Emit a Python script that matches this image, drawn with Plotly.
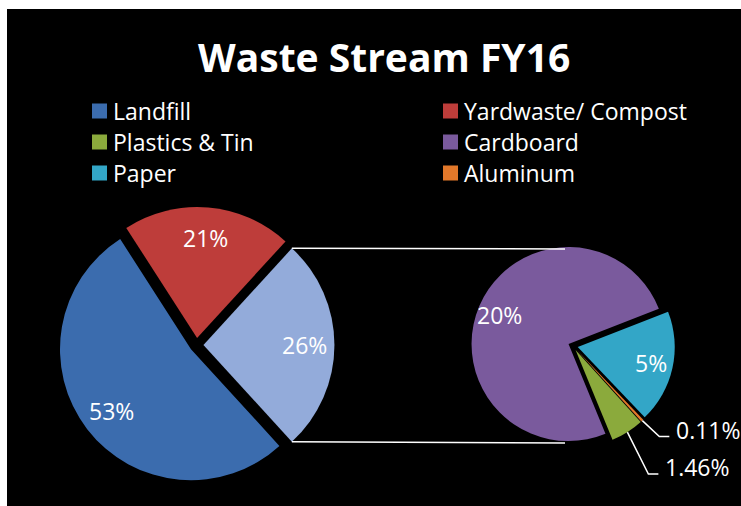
import math
import plotly.graph_objects as go

# ---- data ----
title = "Waste Stream FY16"
legend_order = ["Landfill", "Yardwaste/ Compost", "Plastics & Tin", "Cardboard", "Paper", "Aluminum"]

main_labels = ["Other", "Landfill", "Yardwaste/ Compost"]
landfill_value = 53
yardwaste_value = 21

sub_labels = ["Paper", "Aluminum", "Plastics & Tin", "Cardboard"]
sub_values = [5, 0.11, 1.46, 20]

other_value = sum(sub_values)
main_values = [other_value, landfill_value, yardwaste_value]

colors = {
    "Landfill": "#3B6CAE",
    "Yardwaste/ Compost": "#BE3D3A",
    "Other": "#93ABDA",
    "Cardboard": "#7A5A9D",
    "Paper": "#33A6C7",
    "Plastics & Tin": "#8BAA3C",
    "Aluminum": "#E2782A",
}

W, H = 741, 506
FONT = "Open Sans"


def px_x(x):
    return x / W


def px_y(y):
    return 1 - y / H


# ---- geometry (pixels) ----
c1x, c1y, r1, pull1 = 196.5, 345.0, 131.0, 0.053
c2x, c2y, r2, pull2 = 573.0, 346.0, 97.0, 0.05
label_r = 0.77          # inside label radius (fraction of r)
rot2 = 68.6             # clockwise rotation of the second pie

h1 = r1 * (1 + pull1)
h2 = r2 * (1 + pull2)

total = sum(main_values)
other_frac = other_value / total
rot1 = 90 - other_frac * 180  # other slice centred on 3 o'clock

fig = go.Figure()

fig.add_trace(go.Pie(
    labels=main_labels,
    values=main_values,
    sort=False,
    direction="clockwise",
    rotation=rot1,
    pull=[pull1] * len(main_values),
    marker=dict(colors=[colors[l] for l in main_labels], line=dict(width=0)),
    textinfo="none",
    domain=dict(x=[px_x(c1x - h1), px_x(c1x + h1)], y=[px_y(c1y + h1), px_y(c1y - h1)]),
    showlegend=False,
    hoverinfo="label+percent",
))

fig.add_trace(go.Pie(
    labels=sub_labels,
    values=sub_values,
    sort=False,
    direction="clockwise",
    rotation=rot2,
    pull=[pull2] * len(sub_values),
    marker=dict(colors=[colors[l] for l in sub_labels], line=dict(width=0)),
    textinfo="none",
    domain=dict(x=[px_x(c2x - h2), px_x(c2x + h2)], y=[px_y(c2y + h2), px_y(c2y - h2)]),
    showlegend=False,
    hoverinfo="label+value",
))

shapes = [
    dict(type="rect", xref="paper", yref="paper", x0=px_x(7), x1=1.01, y0=-0.01, y1=px_y(9),
         fillcolor="black", line=dict(width=0), layer="below"),
]
annotations = []


def slice_angles(values, start_deg):
    """clockwise slices starting at start_deg (math angle); returns bisector angles"""
    tot = sum(values)
    out = []
    a = start_deg
    for v in values:
        span = v / tot * 360
        out.append(a - span / 2)
        a -= span
    return out


def label(text, x, y, size=23, xanchor="center"):
    annotations.append(dict(text=text, x=px_x(x), y=px_y(y), xref="paper", yref="paper",
                            xanchor=xanchor, yanchor="middle", showarrow=False,
                            font=dict(family=FONT, size=size, color="white")))


# labels on the main pie
for lab, v, ang in zip(main_labels, main_values, slice_angles(main_values, 90 - rot1)):
    t = math.radians(ang)
    d = (pull1 + label_r) * r1
    label("%d%%" % round(v / total * 100), c1x + d * math.cos(t), c1y - d * math.sin(t))

# labels on the second pie
outside_offsets = {"Aluminum": (17, 16, 10), "Plastics & Tin": (21, 42, 10)}
for lab, v, ang in zip(sub_labels, sub_values, slice_angles(sub_values, 90 - rot2)):
    t = math.radians(ang)
    txt = "%g%%" % v
    if lab in outside_offsets:
        ex, ey, hx = outside_offsets[lab]
        d = (pull2 + 1.0) * r2
        x0, y0 = c2x + d * math.cos(t), c2y - d * math.sin(t)
        x1, y1 = x0 + ex, y0 + ey
        x2 = x1 + hx
        shapes.append(dict(type="path", xref="paper", yref="paper",
                           path="M %f %f L %f %f L %f %f" % (px_x(x0), px_y(y0), px_x(x1), px_y(y1), px_x(x2), px_y(y1)),
                           line=dict(color="white", width=1.5)))
        label(txt, x2 + 5, y1 - 7, xanchor="left")
    else:
        d = (pull2 + label_r) * r2
        label(txt, c2x + d * math.cos(t), c2y - d * math.sin(t))

# connector lines from the "Other" slice to the second pie
theta = other_frac * math.pi
ox = c1x + pull1 * r1
for s in (1, -1):
    x0 = ox + r1 * math.cos(theta)
    y0 = c1y - s * r1 * math.sin(theta)
    x1 = c2x - 8
    y1 = c2y - s * r2
    shapes.append(dict(type="line", xref="paper", yref="paper",
                       x0=px_x(x0), y0=px_y(y0), x1=px_x(x1), y1=px_y(y1),
                       line=dict(color="white", width=1.5)))

annotations.append(dict(text="<b>%s</b>" % title, x=px_x(384), y=px_y(56), xref="paper", yref="paper",
                        xanchor="center", yanchor="middle", showarrow=False,
                        font=dict(family=FONT, size=39, color="white")))

# manual two-column legend
col_x = [92, 443]
row_y = [111, 142, 173]
for i, name in enumerate(legend_order):
    cx = col_x[i % 2]
    cy = row_y[i // 2]
    shapes.append(dict(type="rect", xref="paper", yref="paper",
                       x0=px_x(cx), x1=px_x(cx + 15), y0=px_y(cy + 7.5), y1=px_y(cy - 7.5),
                       fillcolor=colors[name], line=dict(width=0)))
    label(name, cx + 19, cy, size=23, xanchor="left")

fig.update_layout(
    width=W, height=H,
    margin=dict(l=0, r=0, t=0, b=0),
    paper_bgcolor="white",
    plot_bgcolor="black",
    shapes=shapes,
    annotations=annotations,
)

fig.write_html("out.html",
               config={"displayModeBar": False},
               post_script="document.body.style.margin='0';document.body.style.overflow='hidden';")
